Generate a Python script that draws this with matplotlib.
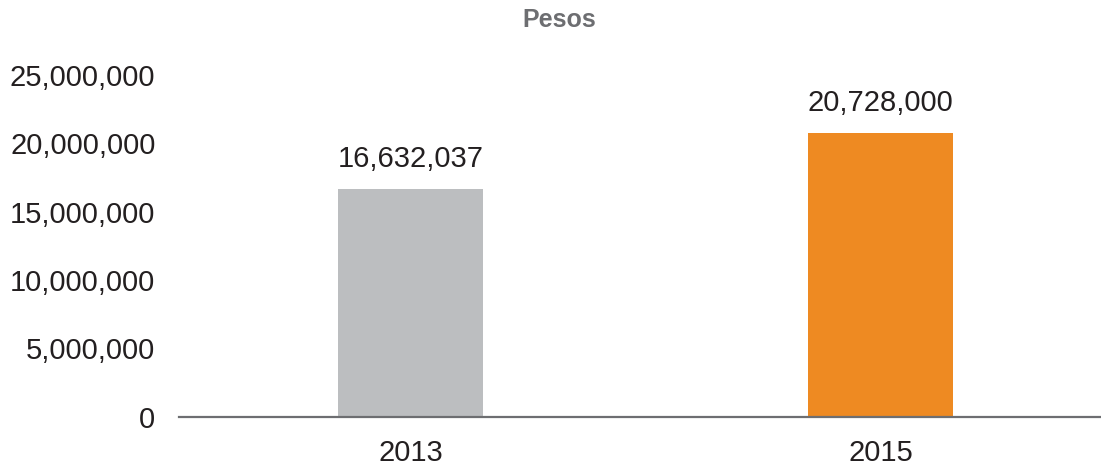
import matplotlib.pyplot as plt

# data
years = ["2013", "2015"]
pesos = [16632037, 20728000]
bar_labels = ["16,632,037", "20,728,000"]
colors = ["#bcbec0", "#ee8a22"]
yticks = [0, 5000000, 10000000, 15000000, 20000000, 25000000]

plt.rcParams['font.family'] = ['Liberation Sans', 'DejaVu Sans']

fig = plt.figure(figsize=(11.01, 4.67), dpi=100)
ax = fig.add_axes([179 / 1101, 50.5 / 467, 922 / 1101, 341.5 / 467])

x = range(len(years))
ax.bar(x, pesos, width=0.31, color=colors, zorder=2)

for i, (v, lab) in enumerate(zip(pesos, bar_labels)):
    ax.annotate(lab, (i, v), xytext=(0, 12), textcoords="offset points",
                ha="center", va="bottom", fontsize=21, color="#231f20")

ax.set_xlim(-0.4926, 1.469)
ax.set_ylim(0, 25000000)
ax.set_yticks(yticks)
ax.set_yticklabels([f"{t:,}" for t in yticks])
ax.set_xticks(list(x))
ax.set_xticklabels(years)
ax.tick_params(axis="both", length=0, labelsize=21, colors="#231f20")
ax.tick_params(axis="y", pad=17)
ax.tick_params(axis="x", pad=16)

for s in ["top", "right", "left"]:
    ax.spines[s].set_visible(False)
ax.spines["bottom"].set_color("#6d6e71")
ax.spines["bottom"].set_linewidth(1.6)
ax.spines["bottom"].set_zorder(3)

fig.text(559 / 1101, 1 - 20 / 467, "Pesos", ha="center", va="center",
         fontsize=18, fontweight="bold", color="#6d6e71")

fig.savefig("out.png", dpi=100)
